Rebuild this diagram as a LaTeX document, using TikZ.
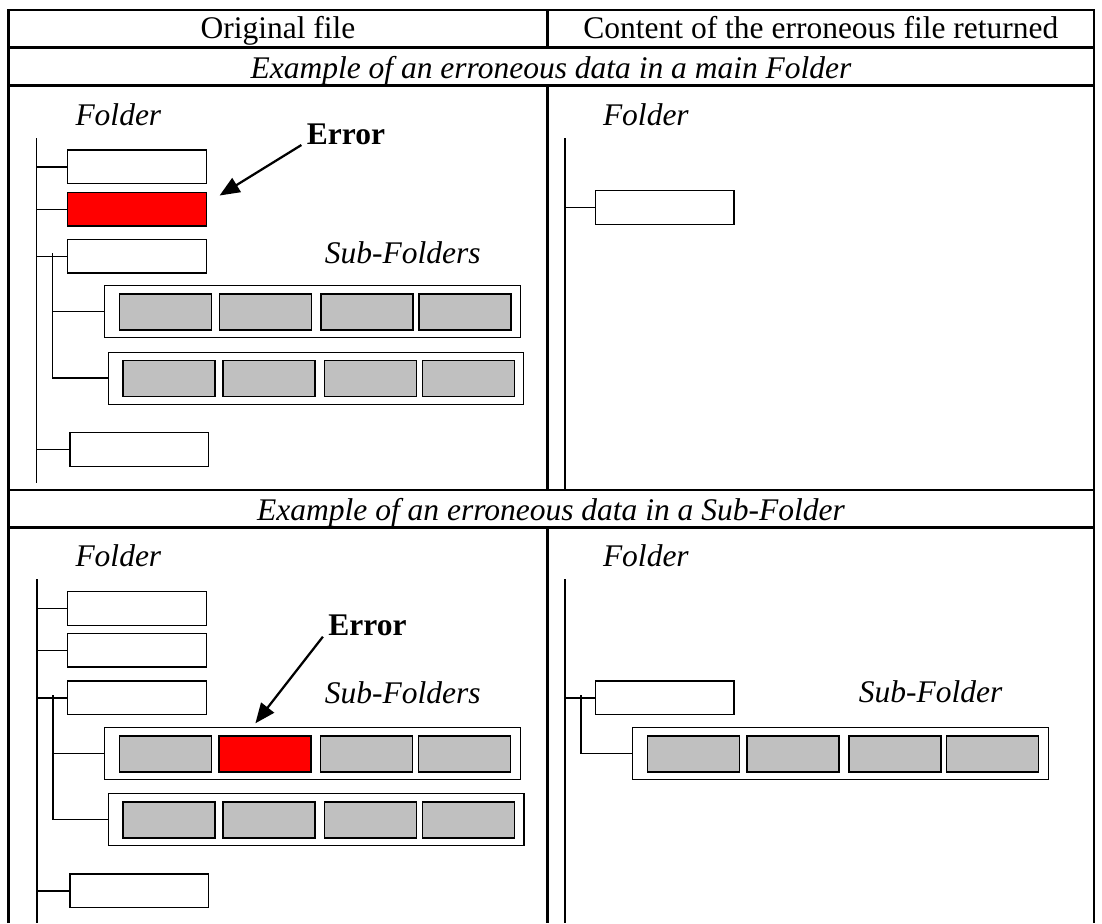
\documentclass[tikz,border=0pt]{standalone}
\usepackage{fontspec}
\setmainfont{Liberation Serif}
\usetikzlibrary{arrows.meta}
\definecolor{subgray}{RGB}{192,192,192}
\tikzset{
	tabline/.style={line width=1pt},
	trunk/.style={line width=0.6pt},
	folderbox/.style={draw, line width=0.55pt, inner sep=0pt, minimum width=55.5pt, minimum height=13.5pt, anchor=north west},
	subrow/.style={draw, line width=0.45pt, inner sep=0pt, minimum width=166.2pt, minimum height=20.8pt, anchor=north west},
	cellbox/.style={draw, line width=0.65pt, inner sep=0pt, minimum width=36.8pt, minimum height=14.4pt, anchor=north west, fill=subgray},
	lbl/.style={font=\itshape, inner sep=0pt, anchor=base west},
	errlabel/.style={font=\bfseries, inner xsep=2pt, inner ysep=0pt, anchor=south west},
	errarrow/.style={line width=0.9pt, -{Triangle[length=8pt,width=6.5pt]}}
}
\begin{document}
\begin{tikzpicture}[x=0.4pt,y=-0.4pt]
			\fontsize{12.6}{15}\selectfont
			\useasboundingbox (0,0) rectangle (1102,923);
			% table
			\draw[tabline] (8.3,923) -- (8.3,10) -- (1094,10) -- (1094,923);
			\foreach \y in {47.3,85.3,490,527.7}{
				\draw[tabline] (8.3,\y) -- (1094,\y);
			}
			\draw[tabline] (547.7,10) -- (547.7,47.3);
			\draw[tabline] (547.7,85.3) -- (547.7,490);
			\draw[tabline] (547.7,527.7) -- (547.7,923);
			\node[anchor=base] (hleft) at (278,38.5) {Original file};
			\node[anchor=base] (hright) at (820.9,38.5) {Content of the erroneous file returned};
			\node[anchor=base, font=\itshape] (rowmain) at (551,78) {Example of an erroneous data in a main Folder};
			\node[anchor=base, font=\itshape] (rowsub) at (551,520) {Example of an erroneous data in a Sub-Folder};
			% main folder, original
			\node[lbl] (folderA) at (75,125) {Folder};
			\coordinate (trunkA) at (36.7,138.3);
			\coordinate (trunkAend) at (36.7,482.7);
			\node[folderbox] (fa1) at (67,149.3) {};
			\node[folderbox, fill=red] (fa2) at (67,191.7) {};
			\node[folderbox] (fa3) at (67,238.7) {};
			\node[folderbox] (fa4) at (69.3,432) {};
			\draw[trunk] (trunkA) -- (trunkAend);
			\foreach \n in {1,...,4}{
				\draw[trunk] (fa\n.west) -- (fa\n.west -| trunkA);
			}
			\coordinate (subA) at (52.5,253.3);
			\node[subrow] (sa1) at (104.3,285) {};
			\node[subrow] (sa2) at (107.8,351.5) {};
			\foreach \n/\dx in {1/14.5,2/114.2,3/215.8,4/313.7}{
				\node[cellbox] (sa1-\n) at (104.3+\dx,293.3) {};
				\node[cellbox] (sa2-\n) at (107.8+\dx,359.8) {};
			}
			\draw[trunk] (subA) |- (sa2.west);
			\draw[trunk] (sa1.west) -- (sa1.west -| subA);
			\node[lbl] (subsA) at (324.3,263.3) {Sub-Folders};
			\node[errlabel] (errA) at (301.4,145) {Error};
			\coordinate (tipA) at (219.6,195.5);
			\draw[errarrow] (errA.south west) -- (tipA);
			% main folder, returned
			\node[lbl] (folderB) at (602.5,125) {Folder};
			\coordinate (trunkB) at (565,138.3);
			\coordinate (trunkBend) at (565,490);
			\node[folderbox] (fb1) at (594.6,190) {};
			\draw[trunk] (trunkB) -- (trunkBend);
			\draw[trunk] (fb1.west) -- (fb1.west -| trunkB);
			% sub-folder, original
			\node[lbl] (folderC) at (75,566.7) {Folder};
			\coordinate (trunkC) at (36.8,579.3);
			\coordinate (trunkCend) at (36.8,923);
			\node[folderbox] (fc1) at (67,591) {};
			\node[folderbox] (fc2) at (67,632.7) {};
			\node[folderbox] (fc3) at (67,680.3) {};
			\node[folderbox] (fc4) at (69.3,873.3) {};
			\draw[trunk] (trunkC) -- (trunkCend);
			\foreach \n in {1,...,4}{
				\draw[trunk] (fc\n.west) -- (fc\n.west -| trunkC);
			}
			\coordinate (subC) at (52.9,695);
			\node[subrow] (sc1) at (104,727) {};
			\node[subrow] (sc2) at (107.9,792.7) {};
			\foreach \n/\dx/\c in {1/14.5/subgray,2/114.2/red,3/215.8/subgray,4/313.7/subgray}{
				\node[cellbox, fill=\c] (sc1-\n) at (104+\dx,735.3) {};
			}
			\foreach \n/\dx in {1/14.5,2/114.2,3/215.8,4/313.7}{
				\node[cellbox] (sc2-\n) at (107.9+\dx,801) {};
			}
			\draw[trunk] (subC) |- (sc2.west);
			\draw[trunk] (sc1.west) -- (sc1.west -| subC);
			\node[lbl] (subsC) at (324.3,703.3) {Sub-Folders};
			\node[errlabel] (errC) at (322.9,636.7) {Error};
			\coordinate (tipC) at (255.4,723.3);
			\draw[errarrow] (errC.south west) -- (tipC);
			% sub-folder, returned
			\node[lbl] (folderD) at (602.5,566.7) {Folder};
			\coordinate (trunkD) at (565,579.3);
			\coordinate (trunkDend) at (565,923);
			\node[folderbox] (fd1) at (594.6,680.3) {};
			\draw[trunk] (trunkD) -- (trunkDend);
			\draw[trunk] (fd1.west) -- (fd1.west -| trunkD);
			\coordinate (subD) at (581,695);
			\node[subrow] (sd1) at (632.1,727) {};
			\foreach \n/\dx in {1/14.5,2/114.2,3/215.8,4/313.7}{
				\node[cellbox] (sd1-\n) at (632.1+\dx,735.3) {};
			}
			\draw[trunk] (subD) |- (sd1.west);
			\node[lbl] (subD-label) at (858.3,702.7) {Sub-Folder};
		\end{tikzpicture}
\end{document}
